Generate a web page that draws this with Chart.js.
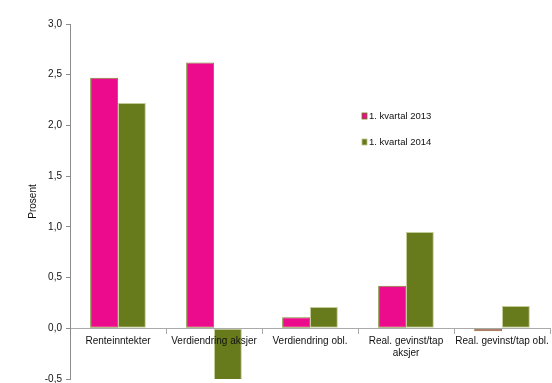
<!DOCTYPE html>
<html lang="no">
<head>
    <meta charset="UTF-8">
    <title>Kvartal 2013 vs 2014</title>
    <script src="https://cdn.jsdelivr.net/npm/chart.js"></script>
    <style>
        body {
            margin: 0;
            background: #ffffff;
        }
        .wrap {
            width: 552px;
            height: 383px;
            position: relative;
        }
    </style>
</head>
<body>
    <div class="wrap">
        <canvas id="kvartalChart" width="552" height="383"></canvas>
    </div>

    <script>
        // Data (prosent)
        const categories = ['Renteinntekter', 'Verdiendring aksjer', 'Verdiendring obl.', ['Real. gevinst/tap', 'aksjer'], 'Real. gevinst/tap obl.'];
        const seriesNames = ['1. kvartal 2013', '1. kvartal 2014'];
        const values2013 = [2.47, 2.62, 0.11, 0.42, -0.03];
        const values2014 = [2.22, -0.52, 0.21, 0.95, 0.22];
        const yTicks = [-0.5, 0, 0.5, 1, 1.5, 2, 2.5, 3];

        const pink = '#ec0b8d';
        const olive = '#687b1c';
        const axisGrey = '#8c8c8c';
        const fontFamily = '"Liberation Sans", Arial, sans-serif';

        Chart.defaults.font.family = fontFamily;
        Chart.defaults.font.size = 10;
        Chart.defaults.color = '#111';

        // small legend drawn inside the plot area, like the original
        const innerLegend = {
            id: 'innerLegend',
            afterDraw(chart) {
                const ctx = chart.ctx;
                const x = 362, y0 = 116, gap = 26;
                ctx.save();
                ctx.font = '9.5px ' + fontFamily;
                ctx.textBaseline = 'middle';
                chart.data.datasets.forEach((ds, i) => {
                    const y = y0 + i * gap;
                    ctx.fillStyle = ds.backgroundColor;
                    ctx.fillRect(x, y - 3, 5, 6);
                    ctx.strokeStyle = i === 0 ? olive : '#b9c48a';
                    ctx.lineWidth = 0.8;
                    ctx.strokeRect(x, y - 3, 5, 6);
                    ctx.fillStyle = '#111';
                    ctx.fillText(ds.label, x + 7, y);
                });
                ctx.restore();
            }
        };

        const ctx = document.getElementById('kvartalChart').getContext('2d');
        const kvartalChart = new Chart(ctx, {
            type: 'bar',
            data: {
                labels: categories,
                datasets: [{
                    label: seriesNames[0],
                    data: values2013,
                    backgroundColor: pink,
                    borderColor: '#7a8a2e',
                    borderWidth: 1,
                    borderSkipped: false
                }, {
                    label: seriesNames[1],
                    data: values2014,
                    backgroundColor: olive,
                    borderColor: '#c3cc98',
                    borderWidth: 1,
                    borderSkipped: false
                }]
            },
            options: {
                responsive: false,
                animation: false,
                datasets: {
                    bar: {
                        categoryPercentage: 0.58,
                        barPercentage: 1
                    }
                },
                layout: {
                    padding: { top: 24, right: 2, bottom: 4, left: 0 }
                },
                plugins: {
                    legend: { display: false },
                    tooltip: { enabled: false }
                },
                scales: {
                    x: {
                        position: { y: 0 },
                        grid: {
                            offset: true,
                            drawOnChartArea: false,
                            tickLength: 5,
                            color: '#aaaaaa'
                        },
                        border: { color: '#aaaaaa', width: 1 },
                        ticks: {
                            z: 1, // labels sit on top of the negative bar
                            autoSkip: false,
                            maxRotation: 0,
                            minRotation: 0,
                            padding: 2,
                            font: { size: 10 }
                        }
                    },
                    y: {
                        min: -0.5,
                        max: 3,
                        afterBuildTicks(scale) {
                            scale.ticks = yTicks.map(v => ({ value: v }));
                        },
                        afterFit(scale) {
                            scale.width = 70;
                            scale.paddingTop = 0;
                            scale.paddingBottom = 0;
                        },
                        grid: {
                            drawOnChartArea: false,
                            tickLength: 4,
                            color: axisGrey
                        },
                        border: { color: axisGrey, width: 1 },
                        ticks: {
                            padding: 4,
                            font: { size: 10 },
                            callback: v => v.toFixed(1).replace('.', ',')
                        },
                        title: {
                            display: true,
                            text: 'Prosent',
                            font: { size: 10 },
                            padding: { top: 27, bottom: 0 }
                        }
                    }
                }
            },
            plugins: [innerLegend]
        });
    </script>
</body>
</html>
